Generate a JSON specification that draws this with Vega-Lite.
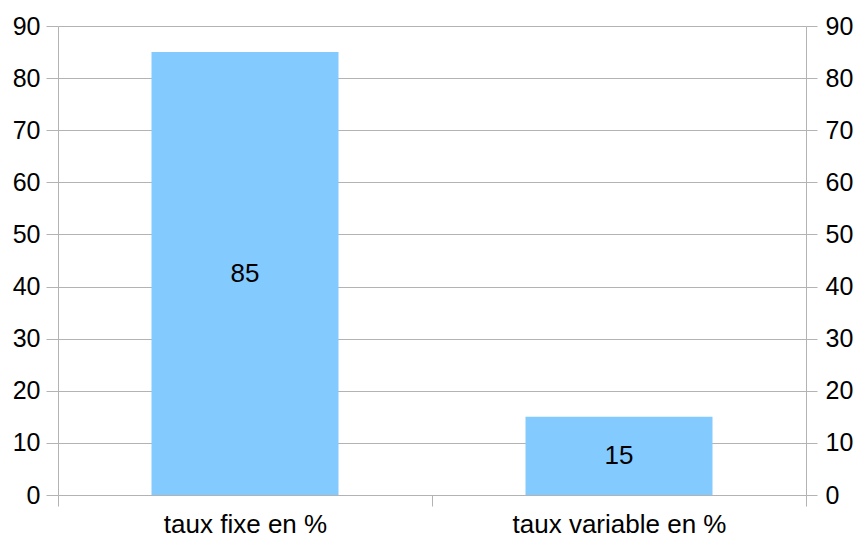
{
  "$schema": "https://vega.github.io/schema/vega-lite/v6.json",
  "width": 748,
  "height": 469,
  "autosize": {"type": "none"},
  "padding": {"left": 58, "top": 26, "right": 50, "bottom": 42},
  "background": "white",
  "config": {
    "view": {"stroke": null},
    "font": "Liberation Sans",
    "axis": {
      "labelFont": "Liberation Sans",
      "labelFontSize": 25,
      "labelColor": "#000000",
      "domainColor": "#b3b3b3",
      "tickColor": "#b3b3b3",
      "gridColor": "#b3b3b3",
      "domainWidth": 1,
      "tickWidth": 1,
      "gridWidth": 1
    }
  },
  "data": {
    "values": [
      {"categorie": "taux fixe en %", "valeur": 85},
      {"categorie": "taux variable en %", "valeur": 15}
    ]
  },
  "encoding": {
    "x": {
      "field": "categorie",
      "type": "nominal",
      "sort": null,
      "scale": {"paddingInner": 0, "paddingOuter": 0},
      "axis": {
        "title": null,
        "labelAngle": 0,
        "labelLimit": 0,
        "labelFontSize": 26,
        "domain": false,
        "ticks": true,
        "tickBand": "extent",
        "tickSize": 11,
        "labelPadding": 5,
        "grid": false
      }
    }
  },
  "layer": [
    {
      "mark": {"type": "bar", "color": "#83caff", "width": {"band": 0.5}},
      "encoding": {
        "y": {
          "field": "valeur",
          "type": "quantitative",
          "scale": {"domain": [0, 90], "nice": false},
          "axis": {
            "title": null,
            "orient": "left",
            "values": [0, 10, 20, 30, 40, 50, 60, 70, 80, 90],
            "tickSize": 12,
            "labelPadding": 6,
            "grid": true,
            "domain": true
          }
        }
      }
    },
    {
      "mark": {"type": "bar", "opacity": 0, "width": {"band": 0.5}},
      "encoding": {
        "y": {
          "field": "valeur",
          "type": "quantitative",
          "scale": {"domain": [0, 90], "nice": false},
          "axis": {
            "title": null,
            "orient": "right",
            "values": [0, 10, 20, 30, 40, 50, 60, 70, 80, 90],
            "tickSize": 11,
            "labelPadding": 8,
            "grid": false,
            "domain": true
          }
        }
      }
    },
    {
      "mark": {"type": "text", "fontSize": 26, "color": "#000000", "font": "Liberation Sans", "baseline": "middle"},
      "encoding": {
        "y": {
          "field": "valeur",
          "type": "quantitative",
          "scale": {"domain": [0, 180], "nice": false},
          "axis": null
        },
        "text": {"field": "valeur", "type": "quantitative"}
      }
    }
  ],
  "resolve": {"scale": {"y": "independent"}, "axis": {"y": "independent"}}
}
